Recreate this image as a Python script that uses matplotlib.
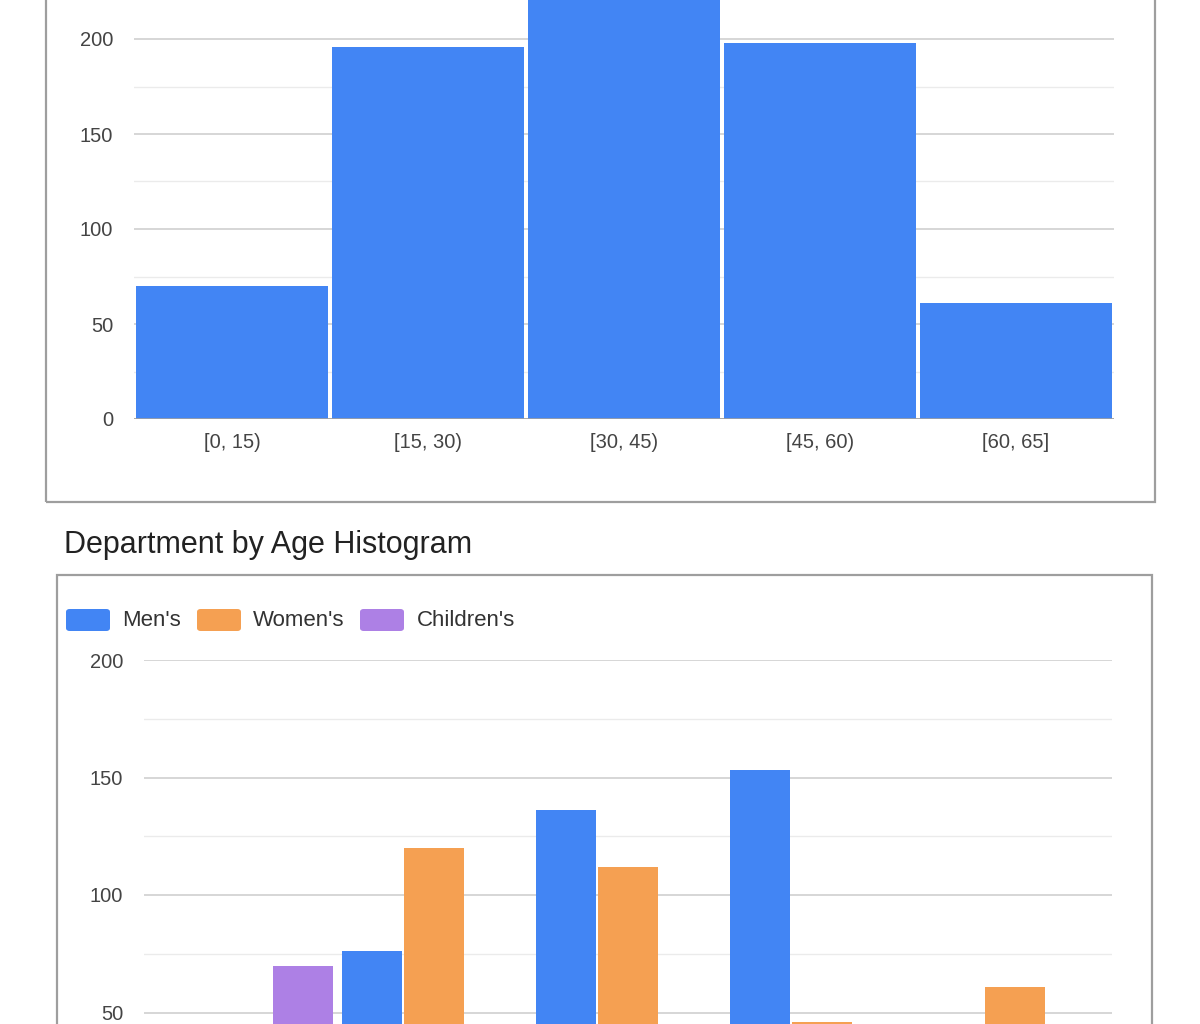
"""
Age histogram + department-by-age grouped histogram, drawn as two
Google-Charts-style panels (screenshot crop: only part of each is visible).
"""

import matplotlib
matplotlib.use("Agg")
import matplotlib.pyplot as plt
import numpy as np
from matplotlib.patches import Rectangle, FancyBboxPatch

plt.rcParams["font.family"] = ["Liberation Sans", "DejaVu Sans"]

# ---- data -------------------------------------------------------------
age_bins = ["[0, 15)", "[15, 30)", "[30, 45)", "[45, 60)", "[60, 65]"]
age_counts = [70, 196, 248, 198, 61]

departments = ["Men's", "Women's", "Children's"]
mens = [0, 76, 136, 153, 0]
womens = [0, 120, 112, 46, 61]
childrens = [70, 0, 0, 0, 0]

BLUE = "#4285f4"
ORANGE = "#f5a052"
PURPLE = "#ad80e5"
dept_colors = [BLUE, ORANGE, PURPLE]

W, H = 1200, 1024
fig = plt.figure(figsize=(W / 100, H / 100), dpi=100)


def px_rect(x0, y0, x1, y1):
    """pixel box (top-left origin) -> figure-fraction [l, b, w, h]"""
    return [x0 / W, 1 - y1 / H, (x1 - x0) / W, (y1 - y0) / H]


def style_axis(ax, ymax, yticks, major=50, minor=25):
    # only the tick labels that fall inside the visible crop are labelled
    ax.set_ylim(0, ymax)
    ax.set_yticks(yticks)
    ax.set_yticks(np.arange(minor, ymax, major), minor=True)
    ax.grid(axis="y", which="major", color="#cccccc", lw=1.1, zorder=0)
    ax.grid(axis="y", which="minor", color="#ebebeb", lw=1.0, zorder=0)
    ax.set_axisbelow(True)
    for s in ax.spines.values():
        s.set_visible(False)
    ax.tick_params(axis="y", which="both", length=0, pad=15,
                   labelsize=14.5, labelcolor="#444444")
    ax.tick_params(axis="x", length=0, pad=10, labelsize=14.5,
                   labelcolor="#444444")
    ax.set_facecolor("none")


# ---- top panel: age histogram ------------------------------------------
fig.add_artist(Rectangle((46 / W, 1 - 502 / H), (1155 - 46) / W, 0.6,
                         transform=fig.transFigure, fill=False,
                         edgecolor="#9e9e9e", lw=1.6))

ax1 = fig.add_axes(px_rect(134, 419 - 250 * 1.9, 1114, 419))
x = np.arange(len(age_bins))
ax1.bar(x, age_counts, width=0.98, color=BLUE, zorder=2)
ax1.axhline(0, color="#a0a0a0", lw=1.2, zorder=3)
ax1.set_xlim(-0.5, len(age_bins) - 0.5)
ax1.set_xticks(x)
ax1.set_xticklabels(age_bins)
style_axis(ax1, 250, [0, 50, 100, 150, 200])
ax1.axhline(250, color="#cccccc", lw=1.1, zorder=0)

# ---- bottom panel: department by age -----------------------------------
fig.text(64 / W, 1 - 545 / H, "Department by Age Histogram",
         fontsize=22, color="#222222", ha="left", va="center")
fig.add_artist(Rectangle((57 / W, -0.1), (1152 - 57) / W, 0.1 + 1 - 575 / H,
                         transform=fig.transFigure, fill=False,
                         edgecolor="#9e9e9e", lw=1.6))

# legend (swatches + labels laid out like the chart library does)
leg_items = [(66, 122), (197, 253), (360, 417)]
for (sx, tx), name, col in zip(leg_items, departments, dept_colors):
    fig.add_artist(FancyBboxPatch((sx / W, 1 - 631 / H), 44 / W, 22 / H,
                                  boxstyle="round,pad=0,rounding_size=0.003",
                                  transform=fig.transFigure,
                                  facecolor=col, edgecolor="none"))
    fig.text(tx / W, 1 - 620 / H, name, fontsize=16, color="#333333",
             ha="left", va="center")

ax2 = fig.add_axes(px_rect(144, 660, 1112, 660 + 200 * 2.35))
slot = 0.32
for i, (vals, col) in enumerate(zip([mens, womens, childrens], dept_colors)):
    ax2.bar(x + (i - 1) * slot, vals, width=slot - 0.01, color=col, zorder=2)
ax2.set_xlim(-0.5, len(age_bins) - 0.5)
# x labels of this panel sit below the crop, so none are drawn
ax2.set_xticks(x)
ax2.set_xticklabels([])
style_axis(ax2, 200, [50, 100, 150, 200])
ax2.grid(axis="y", which="minor", color="#ebebeb", lw=1.0, zorder=0)

fig.savefig("out.png", dpi=100)
